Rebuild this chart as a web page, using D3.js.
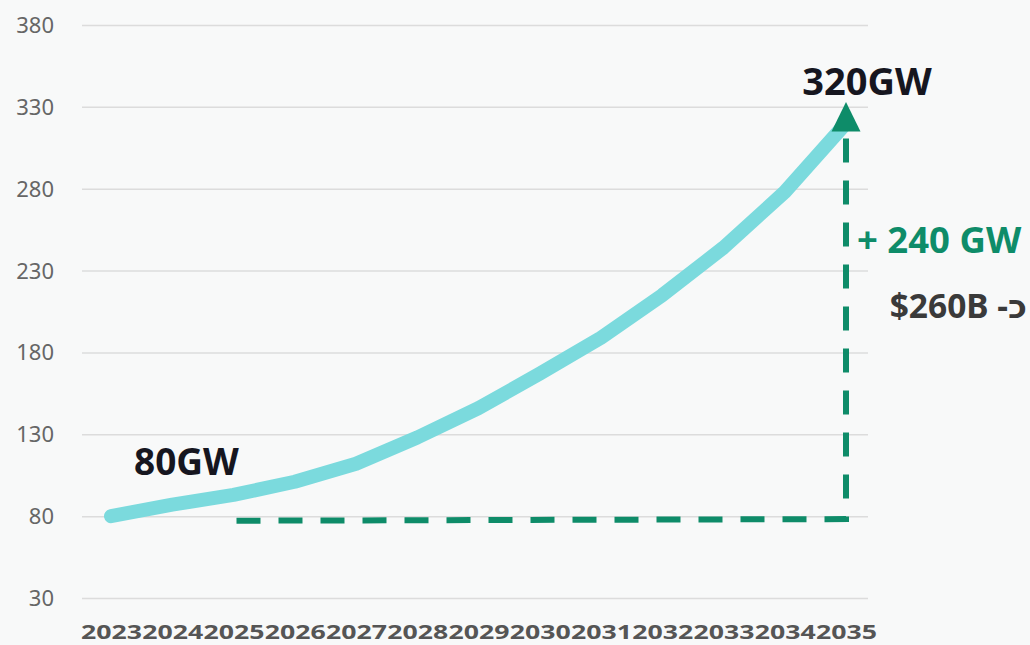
<!DOCTYPE html>
<html>
<head>
<meta charset="utf-8">
<script src="https://cdn.jsdelivr.net/npm/d3@7"></script>
<style>
  html, body { margin: 0; padding: 0; background: #f8f9f9; }
  svg { display: block; font-family: "Noto Sans", "DejaVu Sans", sans-serif; }
</style>
</head>
<body>
<div class="chart"></div>
<script>
const years = [2023, 2024, 2025, 2026, 2027, 2028, 2029, 2030, 2031, 2032, 2033, 2034, 2035];
const capacity = [80, 87, 93, 101, 112, 128, 146, 167, 189, 215, 244, 278, 320];
const yTicks = [30, 80, 130, 180, 230, 280, 330, 380];
// baseline of the growth bracket, from 2025 to 2035
const bracketYears = [2025, 2035];
const bracketBase = [77.2, 78.2];
const startLabel = "80GW";
const endLabel = "320GW";
const growthLabel = "+ 240 GW";
const costLabel = "כ- $260B";

const width = 1030, height = 645;

const svg = d3.select(".chart")
  .append("svg")
  .attr("width", width)
  .attr("height", height)
  .attr("viewBox", [0, 0, width, height]);

svg.append("rect")
  .attr("width", width)
  .attr("height", height)
  .attr("fill", "#f8f9f9");

let x = d3.scaleLinear()
  .domain([2023, 2035])
  .range([111, 846]);

let y = d3.scaleLinear()
  .domain([30, 380])
  .range([598, 25]);

// grid + y labels
let yAxis = g => g
  .attr("transform", "translate(82,0)")
  .call(d3.axisLeft(y)
    .tickValues(yTicks)
    .tickSize(-786)
    .tickPadding(28))
  .call(g => g.select(".domain").remove())
  .call(g => g.selectAll(".tick line")
    .attr("stroke", "#dcdcdc")
    .attr("stroke-width", 1.5))
  .call(g => g.selectAll(".tick text")
    .attr("fill", "#666")
    .attr("font-size", 22)
    .attr("font-family", "'Noto Sans', sans-serif")
    .attr("dy", "0.34em"));

svg.append("g").call(yAxis);

// x labels
let xAxis = g => g
  .attr("transform", "translate(0,639)")
  .call(d3.axisBottom(x)
    .tickValues(years)
    .tickFormat(d3.format("d"))
    .tickSize(0)
    .tickPadding(0))
  .call(g => g.select(".domain").remove())
  .call(g => g.selectAll(".tick text")
    .attr("fill", "#555")
    .attr("font-size", 20)
    .attr("font-weight", "bold")
    .attr("font-family", "'Noto Sans', sans-serif")
    .attr("dy", 0)
    .attr("textLength", 61)
    .attr("lengthAdjust", "spacingAndGlyphs"));

svg.append("g").call(xAxis);

// dashed bracket
const green = "#0e8c69";
let bracket = [
  [x(bracketYears[0]) + 3, y(bracketBase[0])],
  [x(bracketYears[1]), y(bracketBase[1])],
  [x(bracketYears[1]), y(315)]
];
svg.append("path")
  .attr("d", d3.line()(bracket))
  .attr("fill", "none")
  .attr("stroke", green)
  .attr("stroke-width", 6)
  .attr("stroke-dasharray", "24,18");

// main line
let line = d3.line()
  .x((d, i) => x(years[i]))
  .y(d => y(d));

svg.append("path")
  .datum(capacity)
  .attr("d", line)
  .attr("fill", "none")
  .attr("stroke", "#7bdadd")
  .attr("stroke-width", 14)
  .attr("stroke-linecap", "round")
  .attr("stroke-linejoin", "round");

// arrow head
let ax = x(2035);
svg.append("path")
  .attr("d", d3.line()([[ax - 14.5, y(315)], [ax + 14.5, y(315)], [ax, y(333)]]) + "Z")
  .attr("fill", green);

// labels
svg.append("text")
  .attr("x", 867)
  .attr("y", 95)
  .attr("text-anchor", "middle")
  .attr("font-size", 38)
  .attr("font-weight", "bold")
  .attr("fill", "#16161f")
  .text(endLabel);

svg.append("text")
  .attr("x", 134)
  .attr("y", 475)
  .attr("font-size", 37)
  .attr("font-weight", "bold")
  .attr("fill", "#16161f")
  .text(startLabel);

svg.append("text")
  .attr("x", 857)
  .attr("y", 253)
  .attr("font-size", 36.5)
  .attr("font-weight", "bold")
  .attr("fill", green)
  .text(growthLabel);

svg.append("text")
  .attr("x", 1027)
  .attr("y", 318)
  .attr("direction", "rtl")
  .attr("text-anchor", "start")
  .attr("font-size", 33.5)
  .attr("font-weight", "bold")
  .attr("fill", "#3a3a3a")
  .text(costLabel);
</script>
</body>
</html>
